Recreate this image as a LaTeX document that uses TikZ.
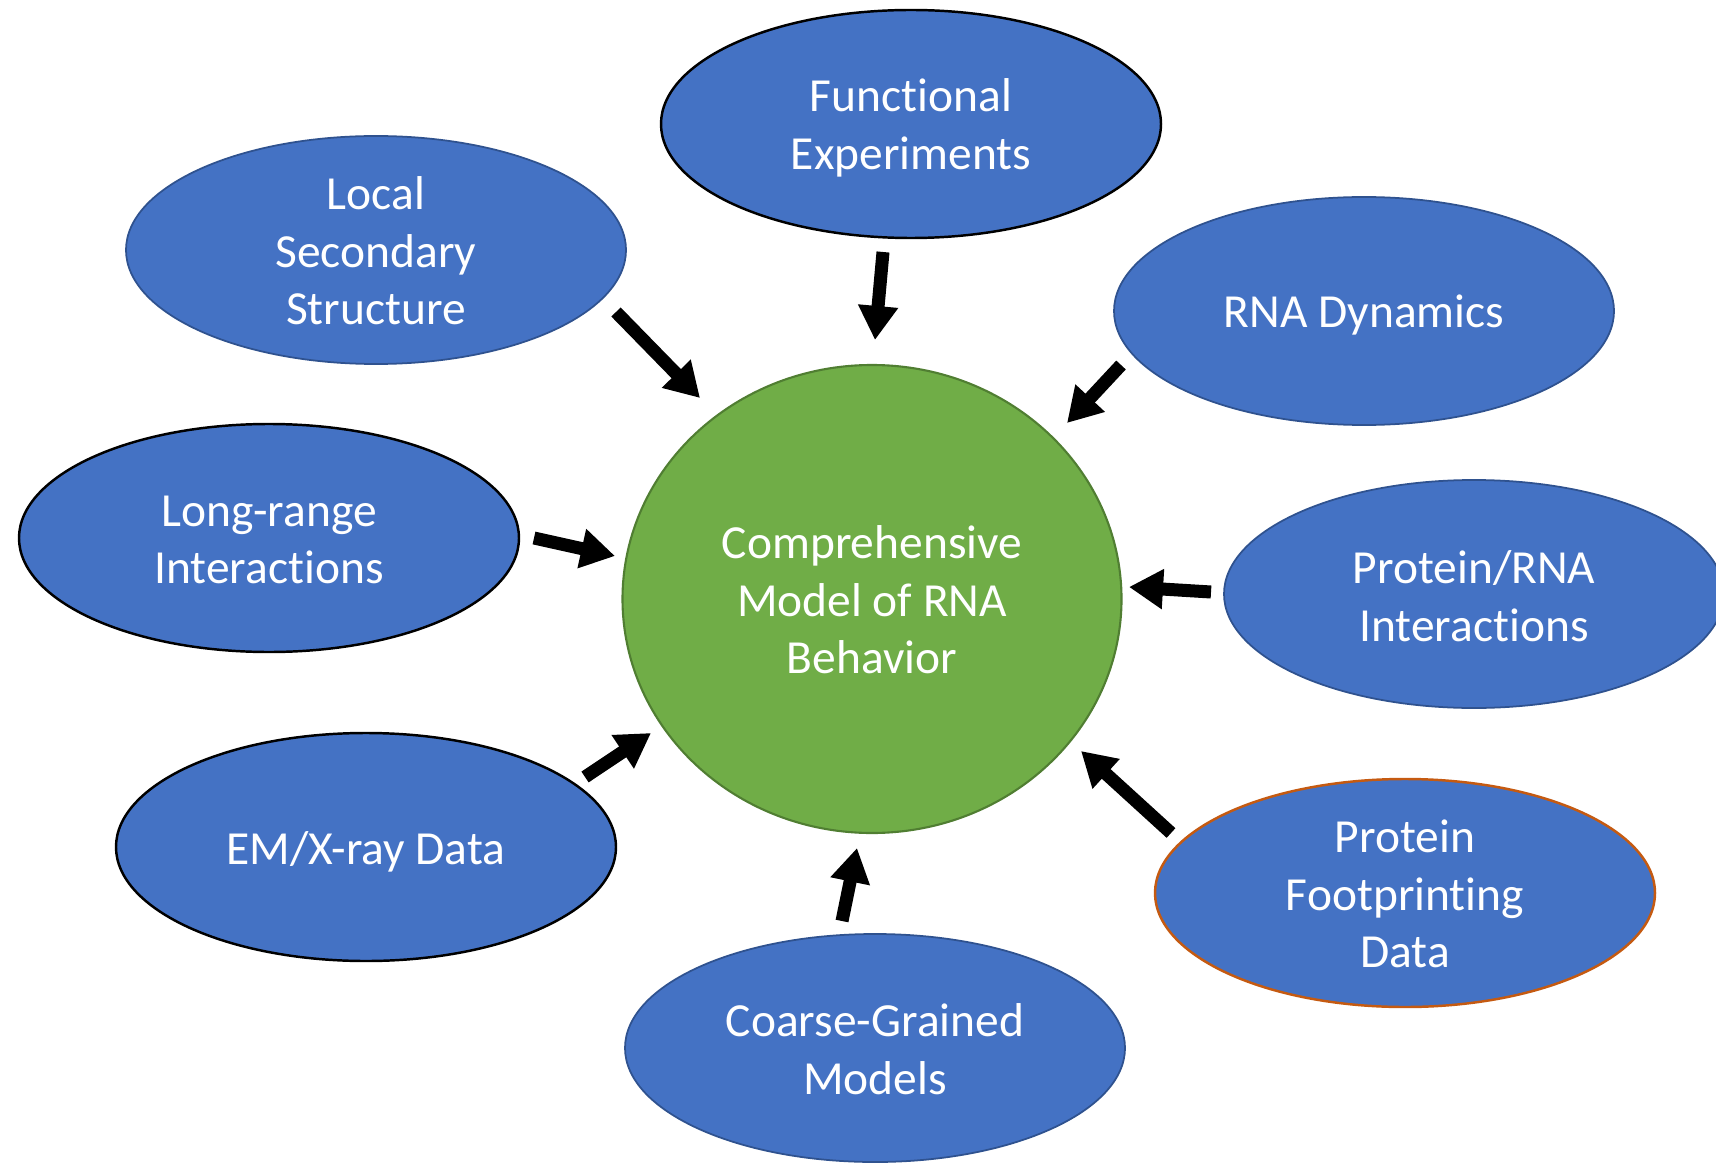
\documentclass[tikz,border=0pt]{standalone}
\usepackage{fontspec}
\setmainfont{Carlito}[Ligatures={NoCommon}]
\usetikzlibrary{arrows.meta}
\definecolor{fillblue}{HTML}{4472C4}
\definecolor{edgeblue}{HTML}{2F528F}
\definecolor{edgeorange}{HTML}{C55A11}
\definecolor{fillgreen}{HTML}{70AD47}
\definecolor{edgegreen}{HTML}{507E32}
% keep "t" and "i" as separate glyphs
\newcommand{\tisplit}{t\kern0pt i}
\begin{document}
\begin{tikzpicture}[x=0.01cm,y=-0.01cm,
  blob/.style={fill=fillblue, draw=edgeblue, line width=0.5pt},
  darkrim/.style={draw=black, line width=0.7pt},
  orangerim/.style={draw=edgeorange, line width=0.7pt},
  core/.style={fill=fillgreen, draw=edgegreen, line width=0.6pt},
  lbl/.style={text=white, align=center, inner sep=0pt,
              font=\fontsize{13.5pt}{16.4pt}\selectfont},
  push/.style={black, line width=0.13cm, line cap=butt,
               -{Triangle[width=0.38cm,length=0.34cm]}}
]
\useasboundingbox (0,0) rectangle (1716,1167);
\clip (0,0) rectangle (1716,1167);

% central model
\draw[core] (872,599) ellipse [x radius=249.5, y radius=234];
\node[lbl] (model) at (872,600) {Comprehensive\\Model of RNA\\Behavior};

% surrounding data sources
\draw[blob,darkrim] (911,124) ellipse [x radius=250, y radius=114];
\node[lbl] (func) at (911,128) {Func\tisplit onal\\Experiments};

\draw[blob] (376,250) ellipse [x radius=250, y radius=114];
\node[lbl] (local) at (376,251) {Local\\Secondary\\Structure};

\draw[blob] (1364,311) ellipse [x radius=250, y radius=114];
\node[lbl] (dyn) at (1364,315) {RNA Dynamics};

\draw[blob,darkrim] (269,538) ellipse [x radius=250, y radius=114];
\node[lbl] (longr) at (269,540) {Long-range\\Interac\tisplit ons};

\draw[blob] (1474,594) ellipse [x radius=250, y radius=114];
\node[lbl] (prna) at (1474,596) {Protein/RNA\\Interac\tisplit ons};

\draw[blob,darkrim] (366,847) ellipse [x radius=250, y radius=114];
\node[lbl] (emx) at (366,852) {EM/X-ray Data};

\draw[blob,orangerim] (1405,893) ellipse [x radius=250, y radius=114];
\node[lbl] (foot) at (1405,894) {Protein\\Footprin\tisplit ng\\Data};

\draw[blob] (875,1048) ellipse [x radius=250, y radius=114];
\node[lbl] (coarse) at (875,1049) {Coarse-Grained\\Models};

% arrow ends
\coordinate (t1) at (883,252);   \coordinate (h1) at (875,340);
\coordinate (t2) at (616,312);   \coordinate (h2) at (700,398);
\coordinate (t3) at (1121,365);  \coordinate (h3) at (1067,423);
\coordinate (t4) at (534,538);   \coordinate (h4) at (615,556);
\coordinate (t5) at (1211,592);  \coordinate (h5) at (1129,587);
\coordinate (t6) at (585,777);   \coordinate (h6) at (651,733);
\coordinate (t7) at (1171,833);  \coordinate (h7) at (1081,751);
\coordinate (t8) at (842,921);   \coordinate (h8) at (857,848);

\foreach \k in {1,...,8}
  \draw[push] (t\k) -- (h\k);
\end{tikzpicture}
\end{document}
